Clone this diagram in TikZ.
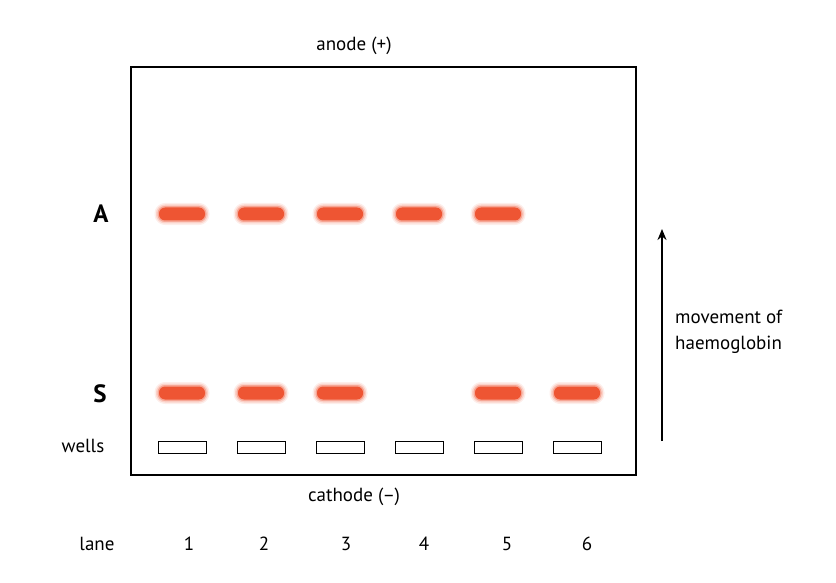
\documentclass[tikz,border=0pt]{standalone}
\usepackage{fontspec}
\setmainfont{PT Sans}
\usetikzlibrary{arrows.meta}
\definecolor{bandred}{HTML}{EE5533}
\tikzset{
  lbl/.style={font=\fontsize{19}{22}\selectfont, inner sep=0pt},
  big/.style={font=\fontsize{25}{28}\selectfont\bfseries, inner sep=0pt},
  band/.style={rectangle, rounded corners=6pt, minimum width=46pt, minimum height=13pt, inner sep=0pt,
    fill=bandred, line join=round,
    preaction={draw=bandred, line width=9pt, opacity=0.10, line join=round},
    preaction={draw=bandred, line width=6pt, opacity=0.18, line join=round},
    preaction={draw=bandred, line width=3pt, opacity=0.35, line join=round}},
  well/.style={draw=black, line width=1pt, minimum width=48pt, minimum height=12pt, inner sep=0pt},
}
\begin{document}
\begin{tikzpicture}[x=1pt,y=-1pt]
\useasboundingbox (0,0) rectangle (836,583);
\node[draw=black, line width=1.2pt, minimum width=505pt, minimum height=408pt, inner sep=0pt] (gel) at (383.5,271) {};
\node[lbl] (anode) at (354,46) {anode (+)};
\node[lbl] (cathode) at (354,497) {cathode (–)};
\node[big] (A) at (101,214) {A};
\node[big] (S) at (100,394) {S};
\node[lbl] (wells) at (83,446) {wells};
\node[lbl] (lane) at (97,544) {lane};
\foreach \i/\x/\lx in {1/182/189, 2/261/264, 3/340/346, 4/419/424, 5/498/507, 6/577/587}{
  \node[well] (w\i) at (\x,447) {};
  \node[lbl] (n\i) at (\lx,544) {\i};
}
\foreach \i/\x in {1/182, 2/261, 3/340, 4/419, 5/498}{
  \node[band] (a\i) at (\x,214) {};
}
\foreach \i/\x in {1/182, 2/261, 3/340, 5/498, 6/577}{
  \node[band] (s\i) at (\x,393) {};
}
\coordinate (arrS) at (662,441);
\coordinate (arrE) at (662,229);
\draw[line width=2.5pt, -{Stealth[length=11pt,width=9pt]}] (arrS) -- (arrE);
\node[lbl, anchor=west] (mv1) at (675,317) {movement of};
\node[lbl, anchor=west] (mv2) at (675,345) {haemoglobin};
\end{tikzpicture}
\end{document}
